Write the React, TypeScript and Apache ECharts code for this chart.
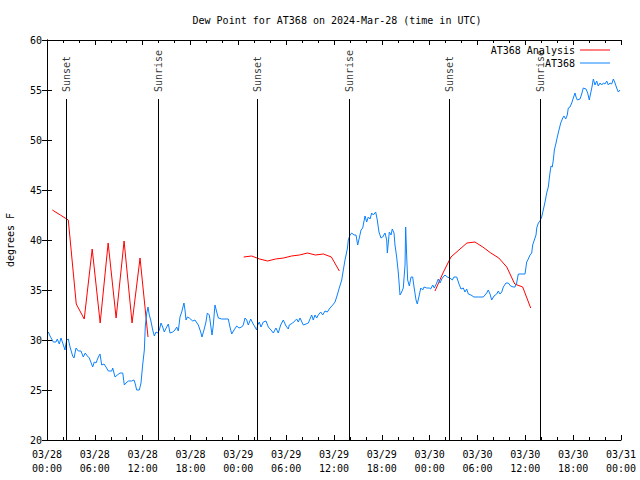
import React, { useEffect, useRef } from "react";
import * as echarts from "echarts";

const TITLE = "Dew Point for AT368 on 2024-Mar-28 (time in UTC)";
const Y_NAME = "degrees F";
const FONT = "'DejaVu Sans Mono', 'Liberation Mono', monospace";

// x values are hours after 2024-03-28 00:00 UTC
const xTickLabels = [
  "03/28\n00:00", "03/28\n06:00", "03/28\n12:00", "03/28\n18:00",
  "03/29\n00:00", "03/29\n06:00", "03/29\n12:00", "03/29\n18:00",
  "03/30\n00:00", "03/30\n06:00", "03/30\n12:00", "03/30\n18:00",
  "03/31\n00:00",
];

const sunEventNames = ["Sunset", "Sunrise", "Sunset", "Sunrise", "Sunset", "Sunrise"];
const sunEventHours = [2.45, 13.96, 26.36, 37.9, 50.45, 61.87];
const SUN_LINE_TOP = 54.1;

const analysisTimes = [
  0.67, 1.67, 2.67, 3.67, 4.67, 5.67, 6.67, 7.67, 8.67, 9.67, 10.67, 11.67, 12.67,
  18.67,
  24.67, 25.67, 26.67, 27.67, 28.67, 29.67, 30.67, 31.67, 32.67, 33.67, 34.67, 35.67, 36.67,
  42.67,
  48.67, 49.67, 50.67, 51.67, 52.67, 53.67, 54.67, 55.67, 56.67, 57.67, 58.67, 59.67, 60.67,
];
const analysisValues = [
  43.0, 42.5, 42.0, 33.6, 32.1, 39.1, 31.7, 39.7, 32.2, 39.9, 31.7, 38.2, 30.3,
  null,
  38.3, 38.4, 38.1, 37.9, 38.1, 38.2, 38.4, 38.5, 38.7, 38.5, 38.6, 38.3, 36.9,
  null,
  34.9, 36.7, 38.3, 39.0, 39.7, 39.8, 39.3, 38.7, 38.2, 37.3, 35.6, 35.3, 33.2,
];

const stationTimes = [
  0.16, 0.38, 0.79, 1.13, 1.29, 1.54, 1.76, 1.97, 2.26, 2.35, 2.47, 2.67, 2.89, 3.22, 3.39, 3.64,
  3.93, 4.26, 4.55, 4.8, 5.06, 5.31, 5.73, 5.93, 6.15, 6.44, 6.65, 6.86, 7.15, 7.4, 7.69, 8.12,
  8.24, 8.53, 8.82, 9.16, 9.5, 9.7, 9.91, 10.2, 10.62, 10.91, 11.04, 11.25, 11.58, 11.79, 12.0,
  12.21, 12.33, 12.51, 12.67, 12.83, 13.01, 13.26, 13.46, 13.67, 13.89, 14.09, 14.3, 14.51, 14.71,
  15.01, 15.22, 15.43, 15.77, 16.06, 16.27, 16.47, 16.68, 16.9, 17.02, 17.18, 17.31, 17.44, 17.6,
  17.85, 18.28, 18.56, 18.98, 19.28, 19.44, 19.69, 19.94, 20.11, 20.36, 20.53, 20.7, 20.86, 21.07,
  21.29, 21.49, 21.91, 22.74, 22.95, 23.17, 23.46, 23.8, 24.08, 24.42, 24.62, 24.84, 25.05, 25.25,
  25.55, 25.8, 26.09, 26.3, 26.43, 26.63, 26.84, 27.13, 27.47, 27.76, 28.1, 28.39, 28.72, 29.01,
  29.31, 29.64, 29.98, 30.27, 30.39, 30.82, 31.32, 31.52, 31.74, 32.15, 32.49, 32.78, 33.2, 33.4,
  33.62, 33.83, 34.03, 34.33, 34.58, 34.87, 35.16, 35.5, 35.84, 36.13, 36.41, 36.66, 36.97, 37.17,
  37.38, 37.59, 37.69, 37.79, 38.01, 38.22, 38.51, 38.76, 38.97, 39.17, 39.39, 39.6, 39.89, 40.1,
  40.3, 40.52, 40.73, 40.93, 41.23, 41.43, 41.64, 41.9, 42.11, 42.4, 42.61, 42.69, 42.94, 43.15,
  43.31, 43.53, 43.65, 43.86, 44.07, 44.28, 44.49, 44.69, 44.91, 44.99, 45.12, 45.24, 45.45, 45.66,
  45.87, 46.04, 46.29, 46.45, 46.7, 46.88, 47.13, 47.29, 47.63, 47.95, 48.13, 48.38, 48.58, 48.88,
  49.08, 49.3, 49.58, 49.92, 50.21, 50.55, 50.84, 51.05, 51.39, 51.68, 51.93, 52.22, 52.43, 52.64,
  52.85, 53.18, 53.56, 54.1, 54.73, 55.15, 55.35, 55.57, 55.78, 56.07, 56.41, 56.61, 56.82, 57.04,
  57.24, 57.57, 57.86, 58.16, 58.49, 58.7, 58.91, 59.12, 59.67, 59.96, 60.17, 60.37, 60.59, 60.8,
  60.92, 61.13, 61.34, 61.43, 61.63, 61.84, 62.05, 62.25, 62.47, 62.68, 62.88, 63.09, 63.22, 63.38,
  63.51, 63.64, 63.85, 64.01, 64.22, 64.44, 64.69, 64.85, 65.06, 65.26, 65.39, 65.6, 65.82, 66.02,
  66.23, 66.36, 66.52, 66.86, 67.07, 67.27, 67.61, 67.82, 68.02, 68.2, 68.36, 68.53, 68.74, 68.95,
  69.15, 69.37, 69.58, 69.78, 69.99, 70.21, 70.41, 70.62, 70.83, 71.04, 71.25, 71.46, 71.66, 71.88,
];
const stationValues = [
  30.8, 30.4, 29.8, 29.8, 30.1, 29.6, 30.2, 29.7, 29.0, 29.5, 30.0, 30.1, 29.3, 28.4, 28.2, 29.2,
  28.9, 28.9, 28.3, 28.7, 28.4, 28.2, 27.3, 27.8, 27.7, 28.3, 28.6, 27.5, 27.6, 27.3, 26.9, 26.9,
  27.2, 26.3, 26.5, 26.7, 26.7, 25.5, 25.7, 25.9, 25.9, 26.0, 25.7, 25.0, 25.0, 25.7, 27.5,
  29.0, 31.4, 32.7, 33.3, 32.5, 32.0, 31.0, 30.4, 30.8, 30.7, 31.0, 31.7, 31.3, 30.8,
  31.3, 31.6, 30.7, 30.8, 31.0, 31.3, 30.9, 32.3, 32.8, 33.2, 33.7, 33.0, 32.0, 32.3,
  32.2, 31.9, 32.0, 31.5, 30.8, 30.3, 31.0, 31.8, 32.7, 32.5, 31.5, 30.5, 31.5, 33.5,
  32.8, 32.2, 32.1, 32.1, 31.3, 30.6, 31.0, 31.4, 31.2, 31.3, 31.5, 32.2, 32.0, 31.5,
  32.1, 31.7, 31.3, 31.0, 31.5, 31.8, 31.3, 31.8, 31.9, 31.3, 31.0, 30.7, 31.2, 30.7,
  31.5, 32.0, 31.4, 31.1, 31.5, 31.7, 32.1, 31.8, 32.2, 31.5, 31.6, 31.7, 32.5, 32.0,
  32.5, 32.2, 32.5, 32.8, 32.5, 32.9, 32.8, 33.2, 33.5, 33.8, 34.5, 35.2, 36.0, 37.0,
  38.0, 38.8, 39.2, 40.0, 40.5, 40.7, 40.5, 40.5, 39.5, 40.2, 41.0, 41.2, 42.4, 41.8,
  42.3, 42.1, 42.7, 42.5, 42.8, 42.0, 40.8, 40.2, 40.3, 40.7, 40.0, 38.7, 40.8, 40.5,
  41.1, 40.7, 39.5, 38.3, 36.7, 34.5, 34.8, 35.2, 37.5, 41.3, 38.3, 36.0, 35.4, 36.3,
  36.3, 35.3, 34.0, 33.6, 34.5, 35.2, 35.0, 35.3, 35.2, 35.2, 35.1, 35.5, 35.2, 35.7,
  36.1, 35.7, 36.2, 36.5, 36.3, 36.2, 36.0, 36.3, 36.3, 35.6, 35.1, 35.2, 34.8, 35.1,
  34.6, 34.5, 34.3, 34.3, 34.3, 34.7, 35.0, 34.6, 34.0, 34.4, 34.6, 34.9, 34.6, 34.8,
  35.3, 35.7, 35.7, 35.4, 35.3, 35.3, 35.7, 36.6, 36.6, 36.6, 37.8, 38.1, 38.5, 38.7,
  39.5, 40.0, 40.5, 41.2, 41.7, 41.9, 42.3, 43.0, 43.8, 44.7, 45.3, 46.7, 47.4, 47.3,
  48.0, 49.0, 49.7, 50.3, 51.0, 51.7, 52.2, 52.4, 52.1, 52.5, 53.2, 53.3, 53.7, 54.2,
  54.7, 54.3, 54.0, 54.1, 54.6, 55.2, 55.1, 54.7, 54.0, 54.7, 55.3, 56.1, 55.5, 55.9,
  55.4, 55.7, 55.5, 55.7, 55.6, 55.9, 55.5, 55.7, 55.6, 56.1, 55.7, 55.2, 54.8, 55.0,
];

const RED = "#ff0000";
const BLUE = "#0a80ff";

export default function App() {
  const ref = useRef<HTMLDivElement>(null);

  useEffect(() => {
    if (!ref.current) return;
    const chart = echarts.init(ref.current, null, { renderer: "svg" });

    const textBase = { fontFamily: FONT, fontSize: 10, color: "#000" };
    const axisLine = { show: true, lineStyle: { color: "#000", width: 1 } };

    const xCommon = {
      type: "value" as const,
      min: 0,
      max: 72,
      interval: 6,
      axisLine,
      axisTick: { show: true, inside: true, length: 5, lineStyle: { color: "#000" } },
      minorTick: { show: true, splitNumber: 3, length: 3, lineStyle: { color: "#000" } },
      splitLine: { show: false },
    };
    const yCommon = {
      type: "value" as const,
      min: 20,
      max: 60,
      interval: 5,
      axisLine,
      axisTick: { show: true, inside: true, length: 5, lineStyle: { color: "#000" } },
      splitLine: { show: false },
    };

    chart.setOption({
      animation: false,
      backgroundColor: "#fff",
      title: {
        text: TITLE,
        left: 332,
        top: 10,
        textAlign: "center",
        textStyle: { ...textBase, fontWeight: "normal" },
      },
      legend: {
        data: ["AT368 Analysis", "AT368"],
        orient: "vertical",
        align: "right",
        right: 30,
        top: 44,
        padding: 0,
        itemGap: 1,
        itemWidth: 30,
        itemHeight: 1,
        icon: "rect",
        selectedMode: false,
        textStyle: { ...textBase, lineHeight: 12 },
      },
      grid: {
        left: 47,
        right: 19,
        top: 40,
        bottom: 40,
        containLabel: false,
        outerBoundsMode: "none",
      },
      xAxis: [
        {
          ...xCommon,
          position: "bottom",
          axisLabel: {
            ...textBase,
            margin: 7,
            lineHeight: 14,
            formatter: (v: number) => xTickLabels[Math.round(v / 6)] ?? "",
          },
        },
        { ...xCommon, position: "top", axisLabel: { show: false } },
      ],
      yAxis: [
        {
          ...yCommon,
          position: "left",
          name: Y_NAME,
          nameLocation: "middle",
          nameGap: 32,
          nameTextStyle: { ...textBase },
          axisLabel: { ...textBase, margin: 5 },
        },
        { ...yCommon, position: "right", axisLabel: { show: false } },
      ],
      series: [
        {
          name: "sun",
          type: "scatter",
          silent: true,
          symbolSize: 0,
          data: sunEventHours.map((t) => [t, SUN_LINE_TOP]),
          label: {
            show: true,
            position: "top",
            distance: 7,
            rotate: 90,
            align: "left",
            verticalAlign: "middle",
            ...textBase,
            formatter: (p: any) => sunEventNames[p.dataIndex],
          },
          markLine: {
            silent: true,
            symbol: ["none", "none"],
            label: { show: false },
            lineStyle: { color: "#000", width: 1, type: "solid" },
            data: sunEventHours.map((t) => [
              { coord: [t, 20] },
              { coord: [t, SUN_LINE_TOP] },
            ]),
          },
        },
        {
          name: "AT368 Analysis",
          type: "line",
          color: RED,
          symbol: "none",
          showSymbol: false,
          connectNulls: false,
          lineStyle: { color: RED, width: 1 },
          data: analysisTimes.map((t, i) => [t, analysisValues[i]]),
        },
        {
          name: "AT368",
          type: "line",
          color: BLUE,
          symbol: "none",
          showSymbol: false,
          lineStyle: { color: BLUE, width: 1 },
          data: stationTimes.map((t, i) => [t, stationValues[i]]),
        },
      ],
    });

    return () => chart.dispose();
  }, []);

  return (
    <div
      ref={ref}
      style={{ position: "absolute", left: 0, top: 0, width: 640, height: 480 }}
    />
  );
}
